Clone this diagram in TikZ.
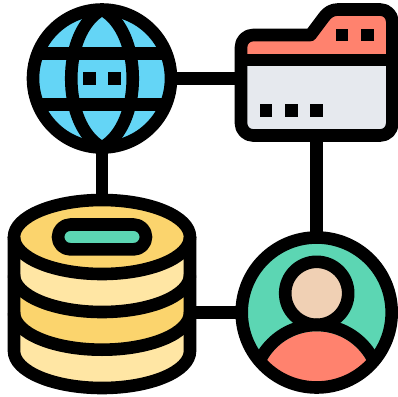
\documentclass[tikz,border=0pt]{standalone}
\definecolor{skyc}{HTML}{64D5F6}
\definecolor{redc}{HTML}{FF826E}
\definecolor{greyc}{HTML}{E6E9EE}
\definecolor{skinc}{HTML}{F0D0B4}
\definecolor{greenc}{HTML}{5CD6B3}
\definecolor{goldc}{HTML}{FBD46D}
\definecolor{paleC}{HTML}{FFE6A4}
\tikzset{
  ink/.style={draw=black,line width=12.6pt,line join=round},
  wire/.style={draw=black,line width=12.6pt},
  dot/.style={fill=black,draw=none}
}
\def\folderoutline{(241,60) -- (241,47) .. controls (241,40.4) and (246.4,35) .. (253,35) -- (310.5,35) -- (324,17) .. controls (327.6,12.2) and (332,9.5) .. (338,9.5) -- (380.3,9.5) .. controls (386.9,9.5) and (392.3,14.9) .. (392.3,21.5) -- (392.3,123.5) .. controls (392.3,130.1) and (386.9,135.5) .. (380.3,135.5) -- (253,135.5) .. controls (246.4,135.5) and (241,130.1) .. (241,123.5) -- cycle}
\begin{document}
\begin{tikzpicture}[x=1pt,y=-1pt]
\useasboundingbox (0,0) rectangle (397,397);
\fill[white] (0,0) rectangle (397,397);
\coordinate (globe) at (102,78.5);
\coordinate (folder) at (316.7,78.5);
\coordinate (user) at (316.7,312.5);
\coordinate (db) at (102,312.5);
% connectors
\draw[wire] (globe) -- (folder);
\draw[wire] (globe) -- (db);
\draw[wire] (folder) -- (user);
\draw[wire] (db) -- (user);
% globe
\fill[skyc] (globe) circle[radius=69];
\draw[ink] (102,9.5) .. controls (61,32) and (61,125) .. (102,147.5);
\draw[ink] (102,9.5) .. controls (143,32) and (143,125) .. (102,147.5);
\draw[ink] (37.5,53.7) -- (166.5,53.7);
\draw[ink] (37.5,104.2) -- (166.5,104.2);
\draw[ink] (globe) circle[radius=69];
\fill[dot] (83,72.2) rectangle (95.7,84.9);
\fill[dot] (108.3,72.2) rectangle (121,84.9);
% folder
\begin{scope}
\clip \folderoutline;
\fill[greyc] (230,60) rectangle (400,140);
\fill[redc] (230,0) rectangle (400,60);
\end{scope}
\draw[ink] \folderoutline;
\draw[ink] (241,60) -- (392.3,60);
\fill[dot] (335.7,28.7) rectangle (348.4,41.4);
\fill[dot] (361,28.7) rectangle (373.7,41.4);
\fill[dot] (259.7,104.3) rectangle (272.4,117);
\fill[dot] (285,104.3) rectangle (297.7,117);
\fill[dot] (310.3,104.3) rectangle (323,117);
% database
\fill[paleC] (14,237) -- (14,351) arc[start angle=180,delta angle=-180,x radius=88,y radius=37] -- (190,237) -- cycle;
\fill[goldc] (14,275) -- (14,312.7) arc[start angle=180,delta angle=-180,x radius=88,y radius=37] -- (190,275) arc[start angle=0,delta angle=180,x radius=88,y radius=37] -- cycle;
\fill[goldc] (102,237) ellipse[x radius=88,y radius=37];
\draw[ink] (14,275) arc[start angle=180,delta angle=-180,x radius=88,y radius=37];
\draw[ink] (14,312.7) arc[start angle=180,delta angle=-180,x radius=88,y radius=37];
\draw[ink] (14,237) -- (14,351) arc[start angle=180,delta angle=-180,x radius=88,y radius=37] -- (190,237);
\draw[ink] (102,237) ellipse[x radius=88,y radius=37];
\filldraw[ink,fill=greenc,rounded corners=12.4pt] (58,224.5) rectangle (146,249.4);
% user
\fill[greenc] (user) circle[radius=70];
\filldraw[ink,fill=skinc] (316.7,293.3) circle[radius=31.5];
\begin{scope}
\clip (user) circle[radius=75];
\fill[redc] (316.7,388.5) circle[radius=57.2];
\draw[ink] (316.7,388.5) circle[radius=63.5];
\end{scope}
\draw[ink] (user) circle[radius=75];
\end{tikzpicture}
\end{document}
